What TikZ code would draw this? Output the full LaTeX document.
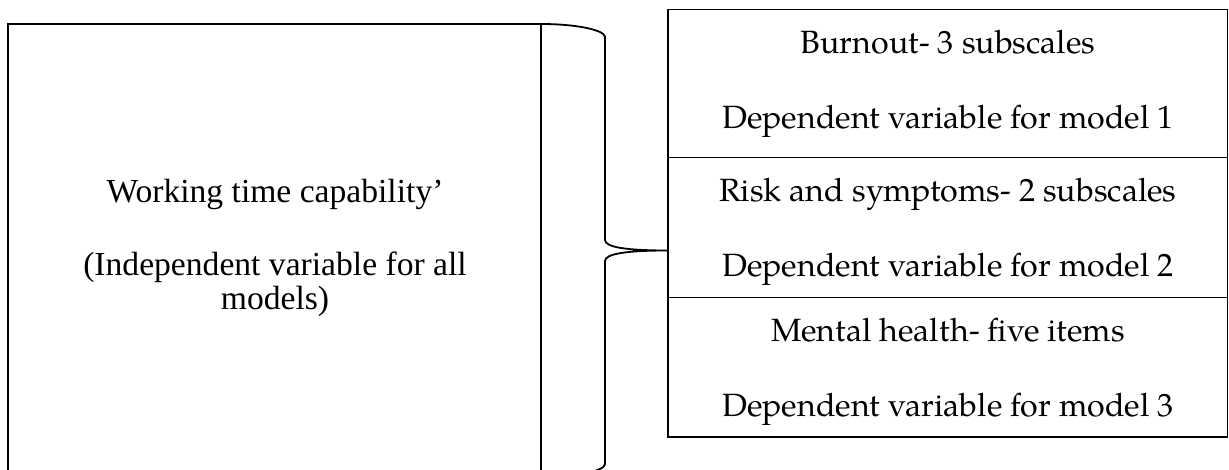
\documentclass[tikz,border=0pt]{standalone}
\usepackage{fontspec}
\setmainfont{Liberation Serif}
\newfontfamily\palfont{texgyrepagella-regular.otf}
\begin{document}
\begin{tikzpicture}[x=0.5pt,y=-0.5pt,
  boxline/.style={draw=black,line width=0.6pt},
  brace/.style={draw=black,line width=0.9pt},
  lefttext/.style={font=\fontsize{16.8}{19}\selectfont,anchor=base,inner sep=0pt},
  righttext/.style={font=\palfont\fontsize{16.1}{19}\selectfont,anchor=base,inner sep=0pt},
  rbox/.style={boxline,anchor=north west,minimum width=279.75pt,inner sep=0pt,outer sep=0pt}]
\useasboundingbox (0,0) rectangle (1229,470);
\fill[white] (0,0) rectangle (1229,470);
\clip (0,0) rectangle (1229,470);
% left box (its bottom lies below the picture)
\node[boxline,anchor=north west,minimum width=266.5pt,minimum height=240pt,inner sep=0pt,outer sep=0pt] (lb) at (8,24) {};
\node[lefttext] (t1) at (275,203) {Working time capability’};
\node[lefttext] (t2) at (275,275) {(Independent variable for all};
\node[lefttext] (t3) at (275,309) {models)};
% right boxes
\node[rbox,minimum height=74pt] (b1) at (668,9.5) {};
\node[rbox,minimum height=70pt] (b2) at (668,157.5) {};
\node[rbox,minimum height=69.75pt] (b3) at (668,297.5) {};
\node[righttext] (r1) at (948,53.5) {Burnout- 3 subscales};
\node[righttext] (r2) at (948,128.5) {Dependent variable for model 1};
\node[righttext] (r3) at (948,201.5) {Risk and symptoms- 2 subscales};
\node[righttext] (r4) at (948,276.5) {Dependent variable for model 2};
\node[righttext] (r5) at (948,341.5) {Mental health- five items};
\node[righttext] (r6) at (948,416.5) {Dependent variable for model 3};
% brace
\draw[brace] (541,24) .. controls (576,24) and (605,30) .. (605,37) -- (605,240)
  .. controls (605,247) and (625,250.5) .. (668,250.5)
  .. controls (625,250.5) and (605,254) .. (605,261) -- (605,464)
  .. controls (605,471) and (576,477) .. (541,477);
\end{tikzpicture}
\end{document}
